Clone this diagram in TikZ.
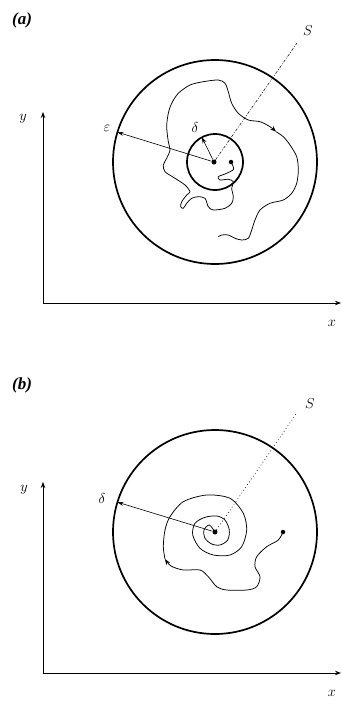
\documentclass[tikz,border=0pt]{standalone}
\usepackage{fontspec}
\setmainfont{Liberation Serif}
\usetikzlibrary{arrows.meta}

\tikzset{
  axis/.style={line width=0.8pt,-{Stealth[length=6pt,width=4.5pt]}},
  rim/.style={draw,circle,line width=1.7pt,inner sep=0pt,outer sep=0pt},
  spot/.style={fill,circle,inner sep=0pt,minimum size=5pt},
  orbit/.style={line width=0.75pt},
  orbitarrow/.style={line width=0.75pt,-{Stealth[length=6pt,width=4.5pt]}},
  radius arrow/.style={line width=0.6pt,-{Stealth[length=6pt,width=4pt]}},
  sline a/.style={line width=0.5pt,dash pattern=on 3pt off 1.6pt on 0.8pt off 1.6pt},
  sline b/.style={line width=0.6pt,dash pattern=on 0.8pt off 2.6pt},
  lbl/.style={font=\fontsize{15}{17}\selectfont},
  tag/.style={font=\fontsize{17}{20}\selectfont\bfseries\itshape}
}

\begin{document}
\begin{tikzpicture}[x=1pt,y=-1pt]
\useasboundingbox (0,0) rectangle (342,704);

% ---- (a) ----
\node[tag] (taga) at (22,20) {(a)};
\coordinate (Oa) at (43,303);
\coordinate (Ya) at (43,112);
\coordinate (Xa) at (341,303);
\draw[axis] (Oa) -- (Ya);
\draw[axis] (Oa) -- (Xa);
\node[lbl] (ya) at (23,119) {$y$};
\node[lbl] (xa) at (332,323) {$x$};

\node[rim,minimum size=204pt] (outa) at (215,162) {};
\node[rim,minimum size=56pt] (ina) at (215,162) {};
\node[spot] (ca) at (214,162) {};
\node[spot,minimum size=4.5pt] (pa) at (231,162) {};

\coordinate (Sa) at (297,43);
\draw[sline a] (ca) -- (Sa);
\node[lbl] (Slabela) at (308,31) {$S$};

\draw[radius arrow] (ca) -- (outa.163);
\node[lbl] (eps) at (107,128) {$\varepsilon$};
\draw[radius arrow] (ca) -- (ina.118);
\node[lbl] (dela) at (195,127) {$\delta$};

\draw[orbitarrow] plot[smooth] coordinates {(231,162) (233.3,167) (233,170) (225,174)
  (218.3,176.7) (220,180) (228.3,179.3) (233.3,181.7) (231.7,188.3) (233.3,196.7)
  (231.7,203.3) (225,208.3) (213.3,210) (208.3,206.7) (205,198.3) (198.3,196.7)
  (191.7,198.3) (186.7,203.3) (183.3,208.3) (180.7,206.7) (181.7,201.7) (186.7,195)
  (190,191.7) (185,185) (175,178.3) (165,171.7) (163.3,165) (166.7,158.3) (170,150)
  (168.3,141.7) (166.7,126.7) (168.3,113.3) (171.7,103.3) (178.3,93.3) (190,85)
  (203.3,81.7) (218.3,80) (225,83.3) (228.3,91.7) (231.7,103.3) (238.3,113.3)
  (248.3,120) (260,121.7) (270,126.7) (276,131.7)};
\draw[orbit] plot[smooth] coordinates {(276,131.7) (283.3,136.7) (290,145)
  (296.7,156.7) (298.3,170) (296.7,183.3) (291.7,193.3) (283.3,200) (270,203.3)
  (260,210) (255,220) (251.7,230) (248.3,238.3) (241.7,240) (235,238.3)
  (228.3,235) (221.7,235) (218.3,236.7)};

% ---- (b) ----
\node[tag] (tagb) at (22,385) {(b)};
\coordinate (Ob) at (43,673);
\coordinate (Yb) at (43,482);
\coordinate (Xb) at (341,673);
\draw[axis] (Ob) -- (Yb);
\draw[axis] (Ob) -- (Xb);
\node[lbl] (yb) at (24,490) {$y$};
\node[lbl] (xb) at (332,693) {$x$};

\node[rim,minimum size=204pt] (outb) at (215,532) {};
\node[spot] (cb) at (215,532) {};
\node[spot,minimum size=4.5pt] (pb) at (283,532) {};

\coordinate (Sb) at (296,414);
\draw[sline b] (cb) -- (Sb);
\node[lbl] (Slabelb) at (310,404) {$S$};

\draw[radius arrow] (cb) -- (outb.163);
\node[lbl] (delb) at (102,498) {$\delta$};

\draw[orbitarrow] plot[smooth] coordinates {(283,532) (278.3,540) (266.7,546.7)
  (256.7,556.7) (255,566.7) (260,576.7) (256.7,586.7) (246.7,590) (226.7,590)
  (216.7,586.7) (208.3,576.7) (200,570) (183.3,570) (171,566) (165,559)};
\draw[orbit] plot[smooth] coordinates {(165,559) (163.3,546.7) (165,530)
  (170,516.7) (183.3,501.7) (206.7,495) (230,498.3) (243.3,513.3) (246.7,530)
  (241.7,546.7) (230,555) (213.3,555) (200,548.3) (192.7,535) (195,523.3)
  (205,517.3) (216.7,516) (225,520) (229.3,530) (227.7,540) (220,545)
  (211.7,544) (205,538.3) (204,530) (209.3,525) (215,532)};
\end{tikzpicture}
\end{document}
